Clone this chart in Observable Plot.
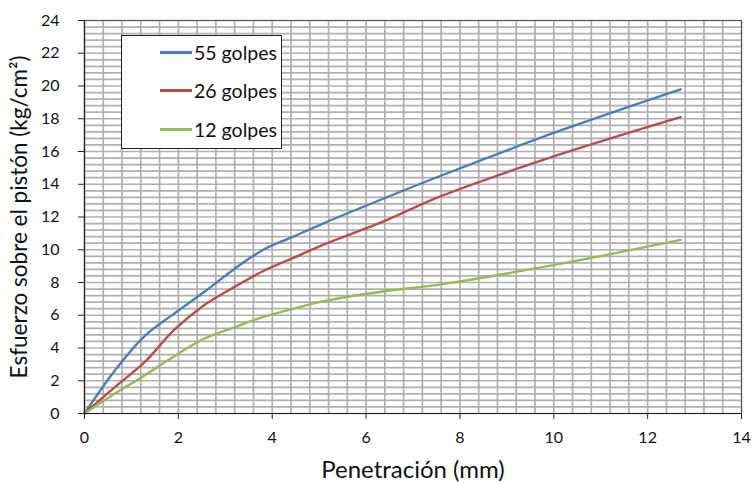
<!DOCTYPE html>
<html>
<head>
<meta charset="utf-8">
<script src="https://cdn.jsdelivr.net/npm/d3@7"></script>
<script src="https://cdn.jsdelivr.net/npm/@observablehq/plot@0.6"></script>
<style>
  html, body { margin: 0; padding: 0; background: #fff; }
  #wrap { position: relative; width: 753px; height: 483px; font-family: Lato, "Open Sans", sans-serif; }
  #legend { position: absolute; left: 121px; top: 35px; width: 159px; height: 112px; background: #fff; border: 1.5px solid #222; }
  .lg { position: absolute; left: 38px; display: flex; align-items: center; font-size: 19.5px; color: #111; }
  .lg span.sw { display: inline-block; width: 32px; height: 2.5px; margin-right: 2px; }
</style>
</head>
<body>
<div id="wrap"></div>
<script>
// Data
const penetracion = [0, 0.64, 1.27, 1.91, 2.54, 3.18, 3.81, 4.45, 5.08, 6.35, 7.62, 10.16, 12.7];
const golpes55 = [0, 2.6, 4.7, 6.1, 7.4, 8.8, 10.0, 10.8, 11.6, 13.1, 14.55, 17.3, 19.8];
const golpes26 = [0, 1.6, 3.1, 5.1, 6.6, 7.7, 8.7, 9.5, 10.3, 11.7, 13.3, 15.85, 18.1];
const golpes12 = [0, 1.2, 2.3, 3.5, 4.55, 5.25, 5.9, 6.4, 6.85, 7.45, 7.9, 9.15, 10.6];
const seriesNames = ["55 golpes", "26 golpes", "12 golpes"];
const seriesColors = ["#4a7ebb", "#be4b48", "#98b954"];
const xTicks = [0, 2, 4, 6, 8, 10, 12, 14];
const yTicks = [0, 2, 4, 6, 8, 10, 12, 14, 16, 18, 20, 22, 24];
const xLabel = "Penetración (mm)";
const yLabel = "Esfuerzo sobre el pistón (kg/cm²)";

const seriesValues = [golpes55, golpes26, golpes12];
const rows = [];
seriesValues.forEach((vals, i) => {
  vals.forEach((v, j) => rows.push({serie: seriesNames[i], x: penetracion[j], y: v}));
});
const gridX = d3.range(0, 35).map(i => +(i * 0.4).toFixed(2)).concat([14]);
const gridY = d3.range(0, 60).map(i => +(i * 0.4).toFixed(2)).concat([24]);

const chart = Plot.plot({
  width: 753,
  height: 483,
  marginLeft: 84,
  marginRight: 12,
  marginTop: 20,
  marginBottom: 70,
  style: {fontFamily: "Lato, 'Open Sans', sans-serif", background: "#fff"},
  x: {domain: [0, 14]},
  y: {domain: [0, 24]},
  color: {domain: seriesNames, range: seriesColors},
  marks: [
    Plot.ruleX(gridX, {stroke: "#b0b0b0", strokeWidth: 1.7}),
    Plot.ruleY(gridY, {stroke: "#b0b0b0", strokeWidth: 1.7}),
    Plot.frame({stroke: "#555", strokeWidth: 1}),
    Plot.line(rows, {x: "x", y: "y", z: "serie", stroke: "serie", strokeWidth: 2.4, curve: "catmull-rom"}),
    Plot.ruleX([0], {stroke: "#222", strokeWidth: 1.2}),
    Plot.ruleY([0], {stroke: "#222", strokeWidth: 1.2}),
    Plot.axisX({ticks: xTicks, tickSize: 6, tickPadding: 12, fontSize: 16, label: null, stroke: "#222", fill: "#111"}),
    Plot.axisY({ticks: yTicks, tickSize: 6, tickPadding: 19, fontSize: 16, label: null, stroke: "#222", fill: "#111"}),
    Plot.axisX({ticks: [], tickSize: 0, label: xLabel, labelAnchor: "center", labelArrow: "none", labelOffset: 64, fontSize: 24, fill: "#111"}),
    Plot.axisY({ticks: [], tickSize: 0, label: yLabel, labelAnchor: "center", labelArrow: "none", labelOffset: 73, fontSize: 22.5, fill: "#111"})
  ]
});
const wrap = document.getElementById("wrap");
wrap.appendChild(chart);

// Legend
const legend = document.createElement("div");
legend.id = "legend";
const tops = [5, 43, 82];
seriesNames.forEach((name, i) => {
  const d = document.createElement("div");
  d.className = "lg";
  d.style.top = tops[i] + "px";
  d.innerHTML = `<span class="sw" style="background:${seriesColors[i]}"></span>${name}`;
  legend.appendChild(d);
});
wrap.appendChild(legend);
</script>
</body>
</html>
